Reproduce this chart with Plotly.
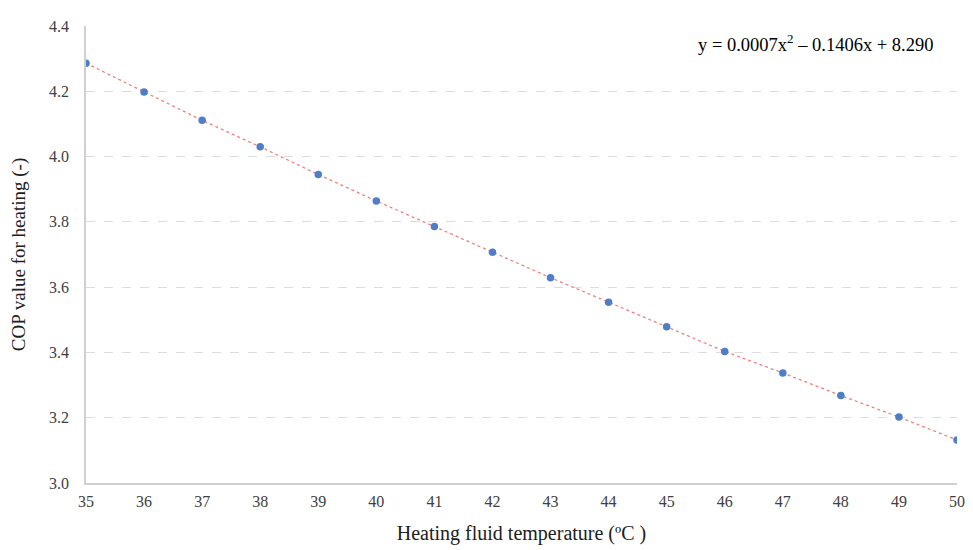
import plotly.graph_objects as go

temperature = [35, 36, 37, 38, 39, 40, 41, 42, 43, 44, 45, 46, 47, 48, 49, 50]
cop = [4.286, 4.198, 4.111, 4.030, 3.945, 3.864, 3.786, 3.707, 3.629, 3.554,
       3.479, 3.403, 3.337, 3.268, 3.202, 3.132]
equation = "y = 0.0007x<sup>2</sup> – 0.1406x + 8.290"

font = "Liberation Serif, Times New Roman, serif"

fig = go.Figure()
fig.add_trace(go.Scatter(
    x=temperature, y=cop, mode="lines",
    line=dict(color="#F08080", width=1.3, dash="dot"),
    showlegend=False, hoverinfo="skip"))
fig.add_trace(go.Scatter(
    x=temperature, y=cop, mode="markers",
    marker=dict(color="#4F7EC8", size=7.5),
    showlegend=False))

# page body has an 8px default margin; margins compensate for it
fig.update_layout(
    width=973, height=550,
    margin=dict(l=76, r=24, t=10, b=75),
    paper_bgcolor="white", plot_bgcolor="white",
    font=dict(family=font, color="#404040", size=16),
    xaxis=dict(range=[35, 50], tickmode="linear", dtick=1, showgrid=False,
               showline=True, linecolor="#D0D0D0", linewidth=1.5, ticks="",
               zeroline=False, ticklabelstandoff=3,
               title=dict(text="Heating fluid temperature (ºC )", standoff=17,
                          font=dict(size=20, color="#202020")),
               tickfont=dict(size=16, color="#404040")),
    yaxis=dict(range=[3.0, 4.4], tickmode="linear", dtick=0.2, tickformat=".1f",
               showgrid=True, gridcolor="#DCDCDC", griddash="dash", gridwidth=1,
               showline=True, linecolor="#D0D0D0", linewidth=1.5, ticks="",
               zeroline=False, ticklabelstandoff=12,
               title=dict(text="COP value for heating (-)", standoff=18,
                          font=dict(size=19, color="#202020")),
               tickfont=dict(size=16, color="#404040")),
    annotations=[dict(text=equation, xref="paper", yref="paper",
                      x=0.975, y=0.962, xanchor="right", yanchor="middle",
                      showarrow=False, font=dict(size=18.5, color="#000000"))],
)

fig.write_html("out.html")
